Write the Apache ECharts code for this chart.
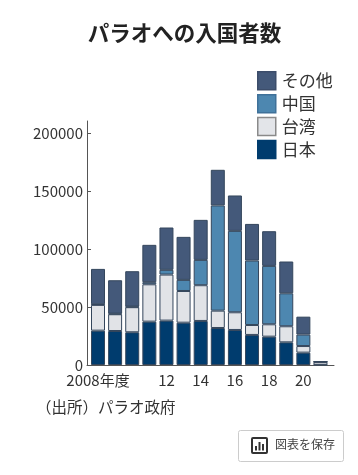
<!DOCTYPE html>
<html><head><meta charset="utf-8">
<style>html,body{margin:0;padding:0;background:#fff}#c{width:358px;height:475px}</style>
<script src="https://cdn.jsdelivr.net/npm/echarts@6/dist/echarts.min.js"></script>
</head><body><div id="c"></div>
<script>
const years = [2008,2009,2010,2011,2012,2013,2014,2015,2016,2017,2018,2019,2020,2021];
const xTicks = [2008,2012,2014,2016,2018,2020];
const yTicks = [0,50000,100000,150000,200000];
const japan  = [29700,29400,28300,37500,38400,36600,38100,32000,30300,26000,24500,19600,10700,200];
const taiwan = [22300,14500,21700,32300,39800,27400,30900,15000,15300,8600,10700,13900,5700,2500];
const china  = [500,500,500,1800,4100,9600,21900,91000,70400,55700,50500,28500,9900,100];
const other  = [30600,28900,30600,32300,36600,37200,34600,30800,30600,31700,30000,27500,15500,400];
const F = '"Noto Sans CJK JP","Noto Sans",sans-serif';
const TXT = '#333';
const mk = (name,vals,color) => ({name,type:'bar',stack:'a',data:vals.map((v,i)=>[v,years[i]]),encode:{x:1,y:0},barWidth:14,
  itemStyle:{color,borderColor:'#34465c',borderWidth:1}});
const leg = (name,color,border) => ({name,icon:'rect',itemStyle:{color,borderColor:border,borderWidth:1.5}});
const chart = echarts.init(document.getElementById('c'),null,{renderer:'canvas'});
chart.setOption({
  animation:false,
  backgroundColor:'#fff',
  textStyle:{fontFamily:F},
  title:{text:'パラオへの入国者数',left:82.7,top:17,textStyle:{fontFamily:F,fontSize:21.5,fontWeight:'bold',color:'#222'}},
  legend:{show:true,orient:'vertical',left:252,top:66,itemWidth:18,itemHeight:18,itemGap:3.4,
    data:[leg('その他','#44597a','#3c4d6a'),leg('中国','#4d87b0','#3f7199'),leg('台湾','#e3e5e9','#8a8a8a'),leg('日本','#003c6e','#003c6e')],selectedMode:false,
    textStyle:{fontFamily:F,fontSize:17,color:TXT,padding:[0,0,0,1]}},
  grid:{left:87,top:121,width:247,height:244},
  xAxis:{type:'value',min:2007.357,max:2021.79,splitLine:{show:false},
    axisLine:{lineStyle:{color:'#555',width:1}},axisTick:{show:false},
    axisLabel:{customValues:xTicks,margin:7.5,color:TXT,fontFamily:F,fontSize:15,
      formatter:v=>v===2008?'2008年度':String(v%100)}},
  yAxis:{type:'value',min:0,max:211000,
    axisLine:{show:true,lineStyle:{color:'#555',width:1}},
    axisTick:{show:true,inside:true,length:4,customValues:yTicks,lineStyle:{color:'#555'}},
    splitLine:{show:false},
    axisLabel:{customValues:yTicks,fontFamily:F,fontSize:15,color:TXT,margin:4,formatter:v=>String(v)}},
  series:[mk('日本',japan,'#003c6e'),mk('台湾',taiwan,'#e1e3e7'),mk('中国',china,'#4d87b0'),mk('その他',other,'#44597a')],
  graphic:[
    {type:'text',left:36,top:399,style:{text:'（出所）パラオ政府',font:'15.5px '+F,fill:TXT}},
    {type:'rect',shape:{x:238.5,y:430.5,width:105,height:31,r:2},style:{fill:'#fff',stroke:'#ccc',lineWidth:1}},
    {type:'rect',shape:{x:252,y:438,width:15,height:15,r:1},style:{fill:'#fff',stroke:'#333',lineWidth:2}},
    {type:'rect',shape:{x:255,y:446,width:2,height:4.5},style:{fill:'#333'}},
    {type:'rect',shape:{x:258.5,y:442,width:2,height:8.5},style:{fill:'#333'}},
    {type:'rect',shape:{x:262,y:444,width:2,height:6.5},style:{fill:'#333'}},
    {type:'text',left:275,top:438,style:{text:'図表を保存',font:'12px '+F,fill:'#444'}}
  ]
});
</script></body></html>
